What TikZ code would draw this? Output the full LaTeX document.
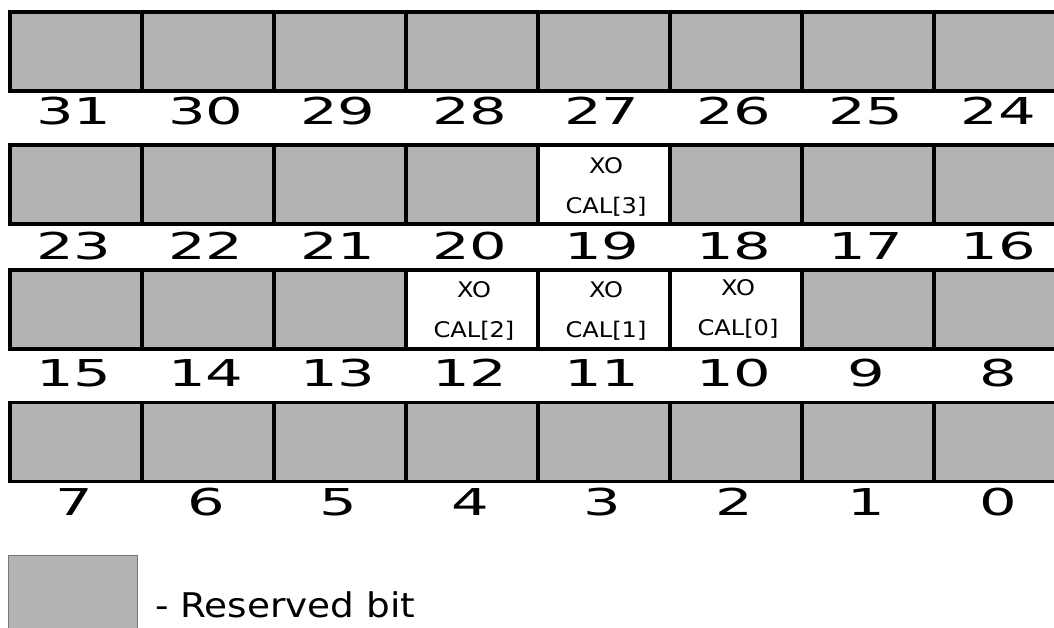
\documentclass[tikz,border=0pt]{standalone}
\usepackage{fontspec}
\setmainfont{DejaVu Sans}
\definecolor{resgray}{RGB}{179,179,179}
\definecolor{legline}{RGB}{120,120,120}
\begin{document}
\begin{tikzpicture}[x=1pt,y=-1pt,
  bitcell/.style={draw=black, line width=3.6pt, minimum width=132pt, minimum height=79pt, inner sep=0pt, outer sep=0pt},
  reserved/.style={bitcell, fill=resgray},
  field/.style={bitcell, fill=white},
  bitnum/.style={font=\fontsize{37}{37}\selectfont, xscale=1.6, anchor=base, inner sep=0pt},
  fieldtxt/.style={font=\fontsize{21.5}{21.5}\selectfont, xscale=1.12, anchor=base, inner sep=0pt},
  legtxt/.style={font=\fontsize{34}{34}\selectfont, xscale=1.1, anchor=base west, inner sep=0pt}]
\useasboundingbox (0,0) rectangle (1054,628);
\clip (0,0) rectangle (1054,628);
\fill[white] (0,0) rectangle (1054,628);
% rows: centres and label baselines
\foreach \r/\cy/\by in {0/51.5/125, 1/184.5/259, 2/309.5/386, 3/442/515}{
  \foreach \c in {0,...,7}{
    \pgfmathtruncatemacro{\bit}{31-8*\r-\c}
    \pgfmathsetmacro{\cx}{76+132*\c}
    \ifnum\bit=19 \def\sty{field}\else
    \ifnum\bit=12 \def\sty{field}\else
    \ifnum\bit=11 \def\sty{field}\else
    \ifnum\bit=10 \def\sty{field}\else
    \def\sty{reserved}\fi\fi\fi\fi
    \node[\sty] (cell-\bit) at (\cx,\cy) {};
    \node[bitnum] (num-\bit) at (\cx-2,\by) {\bit};
  }
}
% field texts
\node[fieldtxt] (xo19) at ([xshift=2pt]cell-19.center |- 0,174) {XO};
\node[fieldtxt] (cal19) at ([xshift=2pt]cell-19.center |- 0,214) {CAL[3]};
\node[fieldtxt] (xo12) at ([xshift=2pt]cell-12.center |- 0,297) {XO};
\node[fieldtxt] (cal12) at ([xshift=2pt]cell-12.center |- 0,337) {CAL[2]};
\node[fieldtxt] (xo11) at ([xshift=2pt]cell-11.center |- 0,297) {XO};
\node[fieldtxt] (cal11) at ([xshift=2pt]cell-11.center |- 0,337) {CAL[1]};
\node[fieldtxt] (xo10) at ([xshift=2pt]cell-10.center |- 0,295) {XO};
\node[fieldtxt] (cal10) at ([xshift=2pt]cell-10.center |- 0,335) {CAL[0]};
% legend
\node[draw=legline, line width=1pt, fill=resgray, minimum width=129pt, minimum height=90pt, inner sep=0pt, anchor=north west] (legbox) at (8,555) {};
\node[legtxt] (legtext) at (155,617) {- Reserved bit};
\end{tikzpicture}
\end{document}
